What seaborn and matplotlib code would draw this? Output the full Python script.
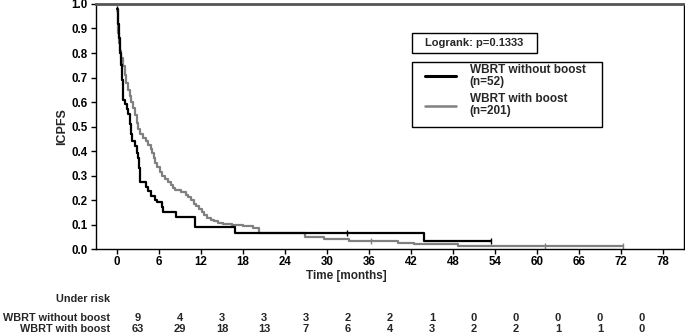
import matplotlib
matplotlib.use('Agg')
import matplotlib.pyplot as plt
from matplotlib.patches import Rectangle
from matplotlib.lines import Line2D
from matplotlib.transforms import blended_transform_factory
import seaborn as sns

# Кривые (время в месяцах, ICPFS)
t_noboost = [0.0, 0.15, 0.3, 0.45, 0.6, 0.7, 0.8, 0.9, 1.15, 1.4, 1.6, 1.8, 1.95, 2.2, 2.6,
             2.8, 3.05, 3.2, 3.25, 3.3, 4.1, 4.5, 4.9, 5.4, 5.7, 6.4, 6.55, 8.5, 11.1, 16.8,
             43.9, 53.4]
s_noboost = [0.98, 0.92, 0.86, 0.80, 0.75, 0.69, 0.63, 0.61, 0.59, 0.57, 0.55, 0.51, 0.47, 0.44,
             0.42, 0.39, 0.37, 0.33, 0.30, 0.275, 0.255, 0.235, 0.215, 0.20, 0.19, 0.17, 0.152,
             0.132, 0.088, 0.066, 0.033, 0.033]

t_boost = [0.0, 0.1, 0.2, 0.3, 0.4, 0.6, 0.85, 1.1, 1.35, 1.6, 1.85, 2.05, 2.3, 2.55, 2.8, 3.0,
           3.3, 3.7, 4.2, 4.5, 4.8, 5.0, 5.25, 5.5, 5.75, 6.1, 6.5, 6.9, 7.3, 7.7, 8.0, 8.3,
           9.2, 9.8, 10.2, 10.6, 11.0, 11.3, 11.7, 12.1, 12.5, 12.9, 13.4, 13.9, 14.5, 15.2,
           16.5, 18.0, 19.4, 20.3, 26.8, 29.6, 33.2, 40.1, 42.5, 48.7, 72.3]
s_boost = [0.98, 0.93, 0.88, 0.84, 0.81, 0.78, 0.745, 0.71, 0.676, 0.65, 0.625, 0.60, 0.575,
           0.545, 0.515, 0.49, 0.47, 0.455, 0.44, 0.425, 0.41, 0.39, 0.37, 0.35, 0.335, 0.315,
           0.30, 0.285, 0.275, 0.262, 0.25, 0.24, 0.232, 0.222, 0.212, 0.20, 0.185, 0.175,
           0.162, 0.15, 0.14, 0.128, 0.12, 0.113, 0.108, 0.103, 0.100, 0.092, 0.085, 0.067,
           0.048, 0.041, 0.033, 0.026, 0.019, 0.012, 0.012]

# цензурированные наблюдения
cens_t_noboost = [0.0, 32.9, 53.4]
cens_s_noboost = [0.98, 0.066, 0.033]
cens_t_boost = [0.0, 36.3, 61.2, 72.3]
cens_s_boost = [0.98, 0.033, 0.012, 0.012]

# таблица "Under risk"
risk_times = [6, 12, 18, 24, 30, 36, 42, 48, 54, 60, 66, 72, 78]
risk_noboost = [9, 4, 3, 3, 3, 2, 2, 1, 0, 0, 0, 0, 0]
risk_boost = [63, 29, 18, 13, 7, 6, 4, 3, 2, 2, 1, 1, 0]

x_ticks = list(range(0, 79, 6))
y_ticks = [0.0, 0.1, 0.2, 0.3, 0.4, 0.5, 0.6, 0.7, 0.8, 0.9, 1.0]

label_noboost = 'WBRT without boost'
label_boost = 'WBRT with boost'
n_noboost = 52
n_boost = 201
p_value = '0.1333'

BLACK = '#000000'
GRAY = '#808080'

sns.set_style('ticks')
plt.rcParams['font.family'] = ['Liberation Sans', 'DejaVu Sans']
plt.rcParams['font.weight'] = 'bold'

fig = plt.figure(figsize=(6.85, 3.36), dpi=100)
ax = fig.add_axes([0.1401, 0.2589, 0.8584, 0.7292])

sns.lineplot(x=t_boost, y=s_boost, drawstyle='steps-post', color=GRAY, lw=1.6,
             estimator=None, sort=False, ax=ax)
sns.lineplot(x=t_noboost, y=s_noboost, drawstyle='steps-post', color=BLACK, lw=1.6,
             estimator=None, sort=False, ax=ax)
ax.plot(cens_t_boost, cens_s_boost, ls='none', marker='|', ms=5, mew=1, color=GRAY)
ax.plot(cens_t_noboost, cens_s_noboost, ls='none', marker='|', ms=5, mew=1, color=BLACK)

ax.set_xlim(-3, 81)
ax.set_ylim(0, 1)
ax.set_xticks(x_ticks)
ax.set_yticks(y_ticks)
ax.set_yticklabels([f'{v:.1f}' for v in y_ticks])
ax.tick_params(direction='out', length=3.5, width=1, labelsize=8.3, pad=2.5, colors='black')
ax.tick_params(axis='x', pad=1.5)
for lab in ax.get_xticklabels() + ax.get_yticklabels():
    lab.set_fontweight('bold')

for side in ['left', 'bottom', 'right']:
    ax.spines[side].set_color('black')
    ax.spines[side].set_linewidth(1.0)
ax.spines['right'].set_visible(True)
ax.spines['top'].set_visible(True)
ax.spines['top'].set_color('#555555')
ax.spines['top'].set_linewidth(2.0)

ax.set_ylabel('ICPFS', fontsize=9, fontweight='bold')
ax.yaxis.set_label_coords(-0.047, 0.5)
ax.set_xlabel('')
fig.text(0.505, 0.180, 'Time [months]', fontsize=8.5, fontweight='bold', ha='center', va='center')

# рамка с p-value
ax.add_patch(Rectangle((0.537, 0.801), 0.213, 0.082, transform=ax.transAxes,
                       fill=False, edgecolor='black', lw=1.0))
ax.text(0.6435, 0.842, f'Logrank: p={p_value}', transform=ax.transAxes,
        ha='center', va='center', fontsize=8, fontweight='bold')

# легенда
ax.add_patch(Rectangle((0.537, 0.499), 0.324, 0.265, transform=ax.transAxes,
                       fill=False, edgecolor='black', lw=1.0))
handles = [Line2D([], [], color=BLACK, lw=2.2), Line2D([], [], color=GRAY, lw=1.8)]
labels = [f'{label_noboost}\n(n={n_noboost})', f'{label_boost}\n(n={n_boost})']
leg = ax.legend(handles, labels, loc='upper left', bbox_to_anchor=(0.5595, 0.755),
                frameon=False, borderpad=0, borderaxespad=0, handlelength=2.6,
                handletextpad=1.2, labelspacing=0.5,
                prop={'size': 8.5, 'weight': 'bold'})
for txt in leg.get_texts():
    txt.set_linespacing(0.95)

# таблица чисел под риском
trans = blended_transform_factory(ax.transData, fig.transFigure)
risk_pos = [t - 3 for t in risk_times]
fig.text(0.161, 0.110, 'Under risk', ha='right', va='center', fontsize=7.8, fontweight='bold')
fig.text(0.161, 0.054, label_noboost, ha='right', va='center', fontsize=7.8, fontweight='bold')
fig.text(0.161, 0.021, label_boost, ha='right', va='center', fontsize=7.8, fontweight='bold')
for x, a, b in zip(risk_pos, risk_noboost, risk_boost):
    ax.text(x, 0.054, str(a), transform=trans, ha='center', va='center', fontsize=8,
            fontweight='bold', clip_on=False)
    ax.text(x, 0.021, str(b), transform=trans, ha='center', va='center', fontsize=8,
            fontweight='bold', clip_on=False)

fig.savefig('out.png', dpi=100)
